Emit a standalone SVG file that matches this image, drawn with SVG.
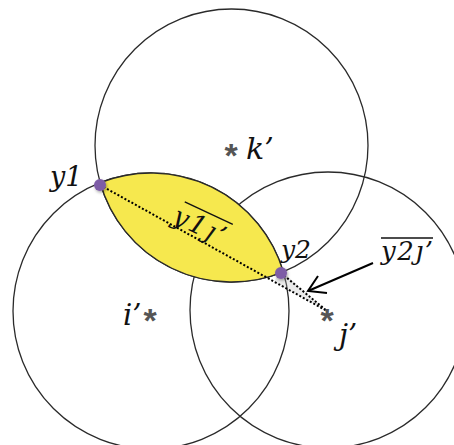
<svg xmlns="http://www.w3.org/2000/svg" width="454" height="445" viewBox="0 0 454 445">
<defs>
<style>
.c{fill:none;stroke:#2a2a2a;stroke-width:1.3}
.dot{stroke:#000;stroke-width:2;stroke-dasharray:2 2;fill:none}
.m{font-family:"DejaVu Serif","Liberation Serif",serif;font-style:italic;fill:#111}
.st{font-family:"Liberation Sans",sans-serif;font-weight:bold;fill:#555;font-size:34px;text-anchor:middle}
.pt{fill:#7d5ba6}
</style>
<filter id="sh" x="-1" y="-1" width="3" height="3"><feDropShadow dx="1" dy="1.5" stdDeviation="1.5" flood-color="#000" flood-opacity="0.35"/></filter>
</defs>
<rect width="454" height="445" fill="#fff"/>
<g id="circle-k"><circle class="c" cx="231.5" cy="145.5" r="136.5"/></g>
<g id="circle-i"><circle class="c" cx="151" cy="311" r="138"/></g>
<g id="circle-j"><circle class="c" cx="328" cy="310" r="138"/></g>
<g id="lens"><path d="M100.2,182.7 A138,138 0 0 1 283.3,271.8 A136.5,136.5 0 0 1 100.2,182.7 Z" fill="#f6e84e" stroke="#2a2a2a" stroke-width="1.3"/></g>
<g id="connectors">
<polygon points="280,270 286,275 327,311 274,282" fill="#bbb" opacity="0.3"/>
<line class="dot" x1="100" y1="185" x2="327" y2="311"/>
<line class="dot" x1="281" y1="273" x2="327" y2="311"/>
<line x1="373" y1="263" x2="308" y2="291" stroke="#000" stroke-width="2"/>
<polyline points="318,276 308,291 327,293" fill="none" stroke="#000" stroke-width="2"/>
</g>
<g id="y1"><circle class="pt" cx="100" cy="185" r="6" filter="url(#sh)"/><text class="m" x="50" y="186" font-size="27">y1</text></g>
<g id="y2"><circle class="pt" cx="281" cy="273" r="6" filter="url(#sh)"/><text class="m" x="281" y="258" font-size="25">y2</text></g>
<g id="k"><text class="st" x="231" y="167">*</text><text class="m" x="246" y="159" font-size="30">k’</text></g>
<g id="i"><text class="m" x="123" y="325" font-size="29">i’</text><text class="st" x="150" y="332">*</text></g>
<g id="j"><text class="st" x="327" y="332">*</text><text class="m" x="339" y="345" font-size="29">j’</text></g>
<g id="label-y1j" transform="translate(171,222) rotate(25)">
<text class="m" x="0" y="0" font-size="26" textLength="55" lengthAdjust="spacing">y1ȷ’</text>
<line x1="4" y1="-24" x2="57" y2="-24" stroke="#111" stroke-width="1.4"/>
</g>
<g id="label-y2j">
<text class="m" x="381" y="260" font-size="26" textLength="52" lengthAdjust="spacing">y2ȷ’</text>
<line x1="381" y1="238" x2="433" y2="238" stroke="#111" stroke-width="1.4"/>
</g>
</svg>
